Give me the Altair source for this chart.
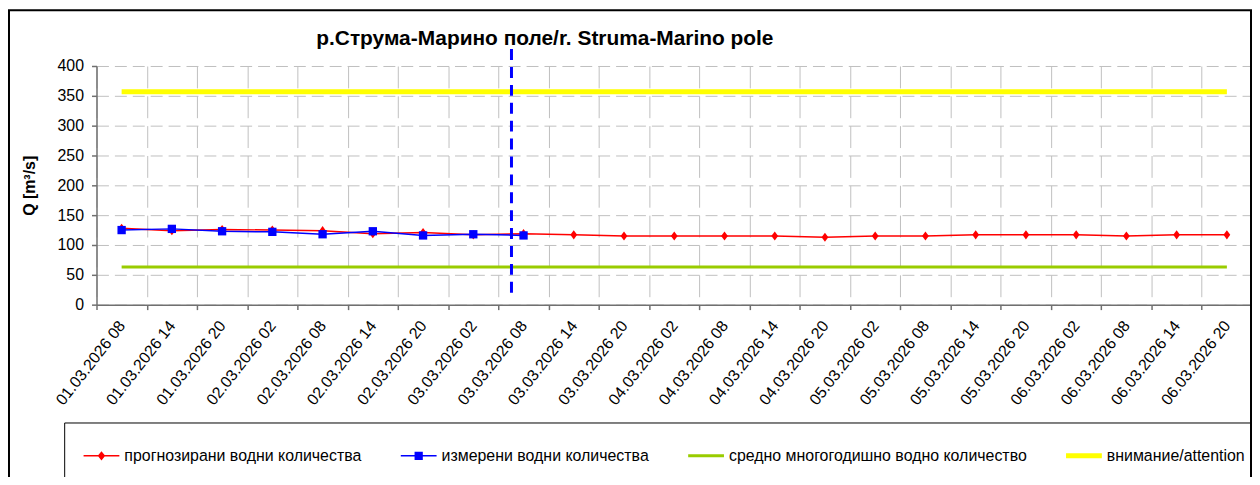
import altair as alt
import pandas as pd

# ---------------- data ----------------
title_text = "р.Струма-Марино поле/r. Struma-Marino pole"
y_title = "Q [m³/s]"

categories = [
    "01.03.2026 08", "01.03.2026 14", "01.03.2026 20",
    "02.03.2026 02", "02.03.2026 08", "02.03.2026 14", "02.03.2026 20",
    "03.03.2026 02", "03.03.2026 08", "03.03.2026 14", "03.03.2026 20",
    "04.03.2026 02", "04.03.2026 08", "04.03.2026 14", "04.03.2026 20",
    "05.03.2026 02", "05.03.2026 08", "05.03.2026 14", "05.03.2026 20",
    "06.03.2026 02", "06.03.2026 08", "06.03.2026 14", "06.03.2026 20",
]
forecast = [128, 124, 126, 125, 124, 119, 121, 117, 119, 117, 115, 115,
            115, 115, 113, 115, 115, 117, 117, 117, 115, 117, 117]
measured = [125, 127, 123, 122, 118, 123, 116, 118, 116]
mean_level = [63, 63]          # first and last category
attention_level = [357, 357]   # first and last category
now_category = ["03.03.2026 08"]
now_low = [20]
now_high = [430]
y_ticks = [0, 50, 100, 150, 200, 250, 300, 350, 400]

series_names = [
    "прогнозирани водни количества",
    "измерени водни количества",
    "средно многогодишно водно количество",
    "внимание/attention",
]
series_colors = ["#ff0000", "#0000ff", "#99cc00", "#ffff00"]

# ---------------- tables ----------------
fc_df = pd.DataFrame({"cat": categories, "q": forecast})
ms_df = pd.DataFrame({"cat": categories[:len(measured)], "q": measured})
mean_df = pd.DataFrame({"cat": [categories[0], categories[-1]], "q": mean_level})
att_df = pd.DataFrame({"cat": [categories[0], categories[-1]], "q": attention_level})
now_df = pd.DataFrame({"cat": now_category, "lo": now_low, "hi": now_high})
leg_df = pd.DataFrame({"series": series_names})
title_df = pd.DataFrame({"t": [title_text]})
frame_df = pd.DataFrame({"k": [0]})

FONT = "Liberation Sans"
W, H = 1162, 240
AXIS_COLOR = "#707070"
GRID_COLOR = "#c0c0c0"

x_scale = alt.Scale(type="band", domain=categories, paddingInner=0, paddingOuter=0)
x_axis = alt.Axis(
    title=None, tickBand="extent", grid=True, gridColor=GRID_COLOR,
    gridDash=[22, 8], gridWidth=1, domainColor=AXIS_COLOR, domainWidth=1.5,
    tickColor=AXIS_COLOR, tickSize=5, tickWidth=1.5,
    labelAngle=308, labelAlign="right", labelBaseline="middle",
    labelPadding=13, labelFont=FONT, labelFontSize=16, labelColor="black",
    labelOverlap=False, labelBound=False, labelFlush=False,
)
y_scale = alt.Scale(domain=[0, 400], nice=False, zero=True)
y_axis = alt.Axis(
    title=y_title, values=y_ticks, grid=True, gridColor=GRID_COLOR,
    gridDash=[12, 6], gridWidth=1, domainColor=AXIS_COLOR, domainWidth=1.5,
    tickColor=AXIS_COLOR, tickSize=5, tickWidth=1.5, labelPadding=8,
    labelFont=FONT, labelFontSize=16, labelColor="black",
    titleFont=FONT, titleFontSize=16, titleFontWeight="bold", titleColor="black",
    titleAngle=270, titleX=-67, titleY=H / 2, titleAlign="center",
    titleBaseline="middle",
)


def X(**kw):
    return alt.X("cat:N", scale=x_scale, axis=x_axis, **kw)


def Y(field="q"):
    return alt.Y(f"{field}:Q", scale=y_scale, axis=y_axis)


diamond = "M0,-1.15L0.85,0L0,1.15L-0.85,0Z"

outer = alt.Chart(frame_df).mark_rect(fillOpacity=0, stroke="black", strokeWidth=2).encode(
    x=alt.value(-88), x2=alt.value(1161), y=alt.value(-56), y2=alt.value(600)
)
legend_box = alt.Chart(frame_df).mark_rect(fillOpacity=0, stroke="black", strokeWidth=1).encode(
    x=alt.value(-32), x2=alt.value(1161), y=alt.value(359), y2=alt.value(600)
)

att_line = alt.Chart(att_df).mark_line(color=series_colors[3], strokeWidth=5).encode(x=X(), y=Y())
mean_line = alt.Chart(mean_df).mark_line(color=series_colors[2], strokeWidth=3).encode(x=X(), y=Y())

fc_line = alt.Chart(fc_df).mark_line(color=series_colors[0], strokeWidth=1.5).encode(x=X(), y=Y())
fc_pts = alt.Chart(fc_df).mark_point(shape=diamond, filled=True, size=64, opacity=1,
                                     color=series_colors[0]).encode(x=X(), y=Y())
ms_line = alt.Chart(ms_df).mark_line(color=series_colors[1], strokeWidth=1.5).encode(x=X(), y=Y())
ms_pts = alt.Chart(ms_df).mark_point(shape="square", filled=True, size=70, opacity=1,
                                     color=series_colors[1]).encode(x=X(), y=Y())

now_rule = alt.Chart(now_df).mark_rule(color="#0000ff", strokeWidth=3, strokeDash=[11, 7]).encode(
    x=X(bandPosition=0.26), y=alt.Y("lo:Q", scale=y_scale, axis=y_axis), y2="hi:Q"
)

legend_paths = [
    "M-1,-0.042H1V0.042H-1ZM0,-0.26L0.21,0L0,0.26L-0.21,0Z",
    "M-1,-0.042H1V0.042H-1ZM-0.23,-0.23H0.23V0.23H-0.23Z",
    "M-1,-0.085H1V0.085H-1Z",
    "M-1,-0.14H1V0.14H-1Z",
]
legend = alt.Legend(
    title=None, orient="none", legendX=-13, legendY=374, direction="horizontal",
    symbolSize=1296, symbolOpacity=1, symbolStrokeWidth=0,
    labelFont=FONT, labelFontSize=16, labelColor="black", labelLimit=0,
    labelOffset=5, columnPadding=39, padding=0,
)
legend_layer = alt.Chart(leg_df).mark_point(filled=True, opacity=0, size=1296).encode(
    shape=alt.Shape("series:N", scale=alt.Scale(domain=series_names, range=legend_paths), legend=legend),
    color=alt.Color("series:N", scale=alt.Scale(domain=series_names, range=series_colors), legend=legend),
)

title = alt.Chart(title_df).mark_text(
    align="left", baseline="middle", font=FONT, fontSize=21, fontWeight="bold", color="black"
).encode(x=alt.value(221), y=alt.value(-27), text="t:N")

chart = alt.layer(
    legend_box, att_line, mean_line, fc_line, fc_pts, ms_line, ms_pts, now_rule,
    legend_layer, title, outer,
).properties(
    width=W, height=H,
    autosize=alt.AutoSizeParams(type="none"),
    padding={"left": 89, "top": 57, "right": 0, "bottom": 172},
).configure_view(strokeWidth=0)

chart.save("out.html", embed_options={"renderer": "svg", "actions": False})
